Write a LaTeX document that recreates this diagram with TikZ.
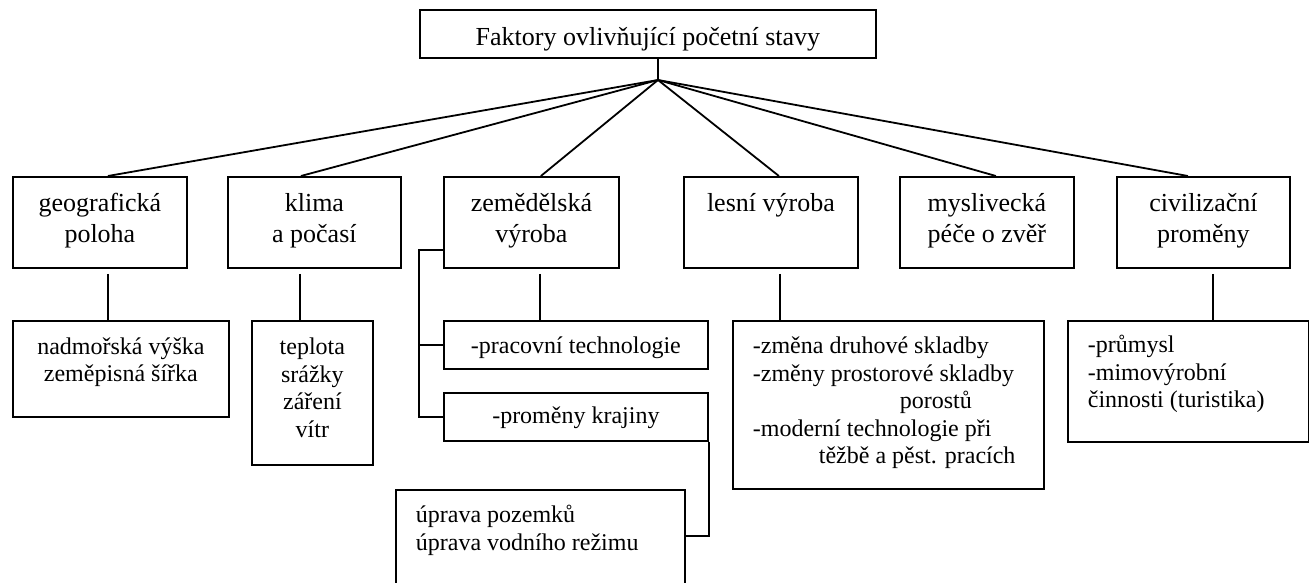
\documentclass[tikz,border=0pt]{standalone}
\usepackage{fontspec}
\setmainfont{Liberation Serif}
\newcommand\fa{\fontsize{26pt}{31.5pt}\selectfont}
\newcommand\fb{\fontsize{24pt}{27.5pt}\selectfont}
\newcommand\ctx[4]{\parbox[c][#2][t]{#1}{\lineskiplimit=-100pt\centering\rule{0pt}{#3}#4\par}}
\newcommand\ltx[5]{\parbox[c][#2][t]{#1}{\lineskiplimit=-100pt\raggedright\leftskip=#4\rule{0pt}{#3}#5\par}}
\begin{document}
\begin{tikzpicture}[x=1pt,y=-1pt,
  bx/.style={draw, line width=1.8pt, inner sep=0pt, anchor=north west},
  ln/.style={line width=1.8pt}]
\useasboundingbox (0,0) rectangle (1309,583);
% top
\node[bx,font=\fa] (top) at (419,9) {\ctx{456pt}{48pt}{36pt}{Faktory ovlivňující početní stavy}};
% second row
\node[bx,font=\fa] (geo) at (12,176) {\ctx{174pt}{91pt}{34.5pt}{geografická\\poloha}};
\node[bx,font=\fa] (kli) at (227,176) {\ctx{173pt}{91pt}{34.5pt}{klima\\a počasí}};
\node[bx,font=\fa] (zem) at (443,176) {\ctx{175pt}{91pt}{34.5pt}{zemědělská\\výroba}};
\node[bx,font=\fa] (les) at (683,176) {\ctx{174pt}{91pt}{34.5pt}{lesní výroba}};
\node[bx,font=\fa] (mys) at (899,176) {\ctx{174pt}{91pt}{34.5pt}{myslivecká\\péče o zvěř}};
\node[bx,font=\fa] (civ) at (1116,176) {\ctx{173pt}{91pt}{34.5pt}{civilizační\\proměny}};
% third row
\node[bx,font=\fb] (nad) at (12,320) {\ctx{216pt}{96pt}{33.3pt}{nadmořská výška\\zeměpisná šířka}};
\node[bx,font=\fb] (tep) at (251,320) {\ctx{121pt}{144pt}{34pt}{teplota\\srážky\\záření\\vítr}};
\node[bx,font=\fb] (prac) at (443,320) {\ctx{264pt}{48pt}{32.7pt}{-pracovní technologie}};
\node[bx,font=\fb] (pro) at (443,392) {\ctx{264pt}{48pt}{31pt}{-proměny krajiny}};
\node[bx,font=\fb] (upr) at (395,489) {\ltx{289pt}{101pt}{32.7pt}{20pt}{úprava pozemků\\úprava vodního režimu}};
\node[bx,font=\fb] (lesb) at (732,320) {\ltx{311pt}{168pt}{32.7pt}{20pt}{-změna druhové skladby\\-změny prostorové skladby\\\hspace*{147pt}porostů\\-moderní technologie při\\\hspace*{66pt}těžbě a pěst. pracích}};
\node[bx,font=\fb] (prum) at (1067,320) {\ltx{241pt}{121pt}{31.7pt}{20pt}{-průmysl\\-mimovýrobní\\činnosti (turistika)}};
% connectors from the top
\coordinate (hub) at (658,80);
\draw[ln] (hub |- top.south) -- (hub);
\foreach \n/\s in {geo/8,kli/-13.5,zem/9.5,les/8,mys/9,civ/-15.5}
  \draw[ln] (hub) -- ([xshift=\s pt]\n.north);
% vertical connectors
\draw[ln] ([xshift=8pt,yshift=-5pt]geo.south) coordinate (a1) -- (a1 |- nad.north);
\draw[ln] ([xshift=-14.5pt,yshift=-5pt]kli.south) coordinate (a2) -- (a2 |- tep.north);
\draw[ln] ([xshift=8.5pt,yshift=-5pt]zem.south) coordinate (a3) -- (a3 |- prac.north);
\draw[ln] ([xshift=9pt,yshift=-5pt]les.south) coordinate (a4) -- (a4 |- lesb.north);
\draw[ln] ([xshift=9.5pt,yshift=-5pt]civ.south) coordinate (a5) -- (a5 |- prum.north);
% bracket of zemědělská výroba
\draw[ln] ([yshift=-27.5pt]zem.west) -- ++(-24,0) coordinate (bk) -- (bk |- pro.west) -- (pro.west);
\draw[ln] (prac.west) -- (bk |- prac.west);
% proměny krajiny -> úprava
\coordinate (ue) at ([yshift=4.5pt]upr.east);
\draw[ln] (pro.south east) -- (pro.south east |- ue) -- (ue);
\end{tikzpicture}
\end{document}
